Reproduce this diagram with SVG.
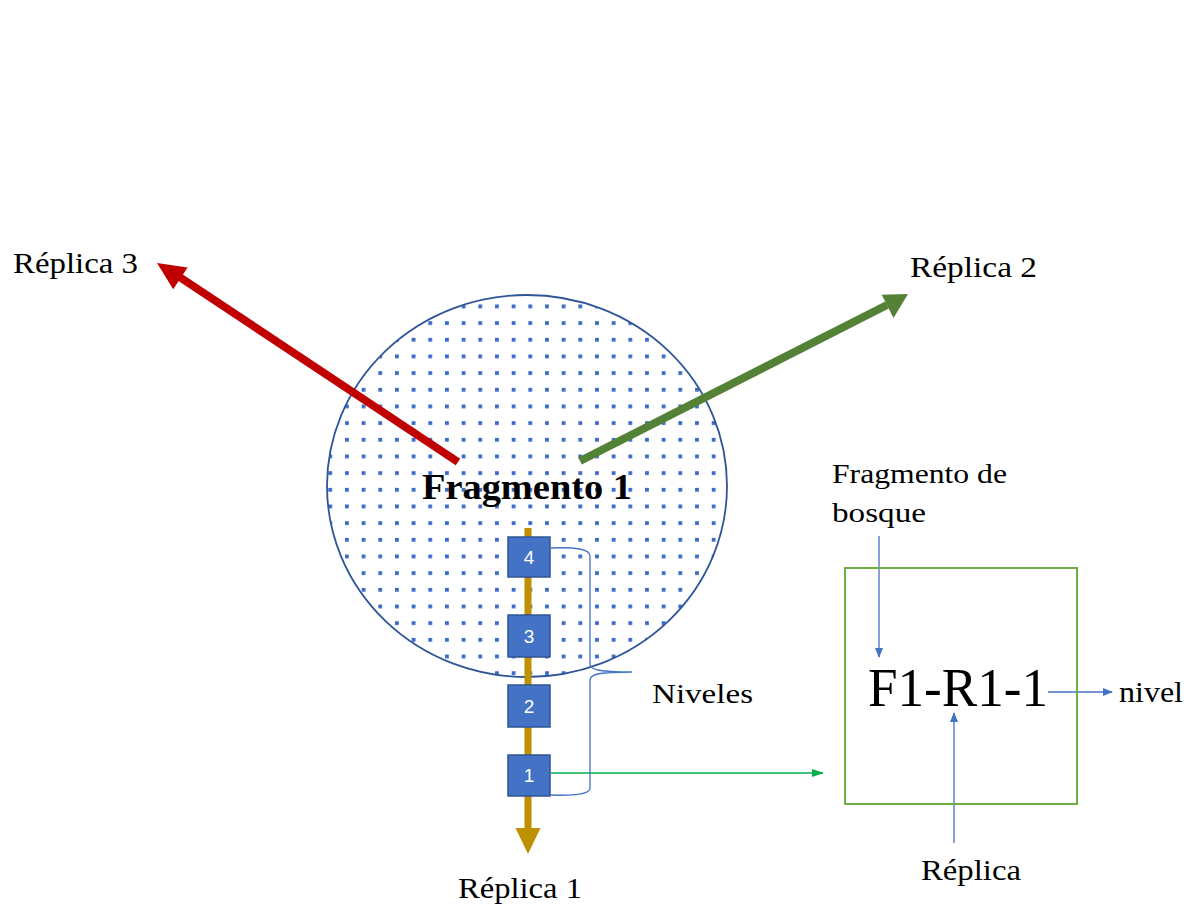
<svg xmlns="http://www.w3.org/2000/svg" width="1203" height="910" viewBox="0 0 1203 910">
<style>
.lbl{font-family:"Liberation Serif","Times New Roman",serif;fill:#000}
.num{font-family:"Liberation Sans",Arial,sans-serif;font-size:19px;fill:#fff;text-anchor:middle}
.box{fill:#4472C4;stroke:#2F5597;stroke-width:1.5}
.thin{stroke:#4472C4;stroke-width:1.3;fill:none}
</style>
<defs>
<pattern id="dots" patternUnits="userSpaceOnUse" x="345" y="304.5" width="16.67" height="16.67">
<rect x="0" y="0" width="3.8" height="3.8" fill="#3A6BC9"/>
</pattern>
<marker id="ab" markerUnits="userSpaceOnUse" markerWidth="10" markerHeight="10" refX="9" refY="5" orient="auto">
<path d="M0,1 L10,5 L0,9 Z" fill="#4472C4"/>
</marker>
<marker id="ag" markerUnits="userSpaceOnUse" markerWidth="12" markerHeight="10" refX="11" refY="5" orient="auto">
<path d="M0,1 L12,5 L0,9 Z" fill="#00B050"/>
</marker>
</defs>
<rect width="1203" height="910" fill="#fff"/>

<g id="fragmento1">
<ellipse cx="527" cy="486" rx="200" ry="191" fill="#fff"/>
<ellipse cx="527" cy="486" rx="200" ry="191" fill="url(#dots)" stroke="#2F5597" stroke-width="1.8"/>
</g>

<g id="connectors">
<line x1="458" y1="462" x2="178" y2="276" stroke="#C00000" stroke-width="8"/>
<path d="M157,263 L187.6,267.6 L173.2,289.2 Z" fill="#C00000"/>
<line x1="580" y1="461" x2="887" y2="305" stroke="#538135" stroke-width="8"/>
<path d="M908,294 L893.5,318 L881.7,294.8 Z" fill="#538135"/>
<line x1="528" y1="528" x2="528" y2="830" stroke="#BF9000" stroke-width="7"/>
<path d="M515.5,828 L540.5,828 L528,854 Z" fill="#BF9000"/>
<line x1="551" y1="773" x2="823" y2="773" stroke="#00B050" stroke-width="1.5" marker-end="url(#ag)"/>
<path class="thin" d="M551,548 C575,547 590,549 590,556 L590,664 C590,670 600,672 632,672 C600,672 590,674 590,680 L590,788 C590,794 575,796 551,795"/>
<line class="thin" x1="879" y1="536" x2="879" y2="657" marker-end="url(#ab)"/>
<line class="thin" x1="1048" y1="692" x2="1112" y2="692" marker-end="url(#ab)"/>
<line class="thin" x1="954" y1="843" x2="954" y2="713" marker-end="url(#ab)"/>
</g>

<g id="nivel4"><rect class="box" x="508" y="537" width="42" height="40"/><text class="num" x="529" y="564">4</text></g>
<g id="nivel3"><rect class="box" x="508" y="615" width="42" height="42"/><text class="num" x="529" y="643">3</text></g>
<g id="nivel2"><rect class="box" x="508" y="685" width="42" height="42"/><text class="num" x="529" y="713">2</text></g>
<g id="nivel1"><rect class="box" x="508" y="755" width="42" height="41"/><text class="num" x="529" y="782">1</text></g>

<g id="codigo">
<rect x="845" y="568" width="232" height="236" fill="none" stroke="#70AD47" stroke-width="2"/>
<text class="lbl" x="868" y="706" font-size="54" textLength="180" lengthAdjust="spacingAndGlyphs">F1-R1-1</text>
</g>

<g id="labels">
<text class="lbl" x="422" y="499" font-size="36" font-weight="bold" textLength="210" lengthAdjust="spacingAndGlyphs">Fragmento 1</text>
<text class="lbl" x="13" y="273" font-size="30" textLength="125" lengthAdjust="spacingAndGlyphs">Réplica 3</text>
<text class="lbl" x="910" y="277" font-size="30" textLength="127" lengthAdjust="spacingAndGlyphs">Réplica 2</text>
<text class="lbl" x="458" y="898" font-size="30" textLength="124" lengthAdjust="spacingAndGlyphs">Réplica 1</text>
<text class="lbl" x="652" y="703" font-size="28" textLength="101" lengthAdjust="spacingAndGlyphs">Niveles</text>
<text class="lbl" x="832" y="483" font-size="28" textLength="175" lengthAdjust="spacingAndGlyphs">Fragmento de</text>
<text class="lbl" x="832" y="522" font-size="28" textLength="94" lengthAdjust="spacingAndGlyphs">bosque</text>
<text class="lbl" x="1119" y="702" font-size="29" textLength="64" lengthAdjust="spacingAndGlyphs">nivel</text>
<text class="lbl" x="921" y="880" font-size="29" textLength="100" lengthAdjust="spacingAndGlyphs">Réplica</text>
</g>
</svg>
